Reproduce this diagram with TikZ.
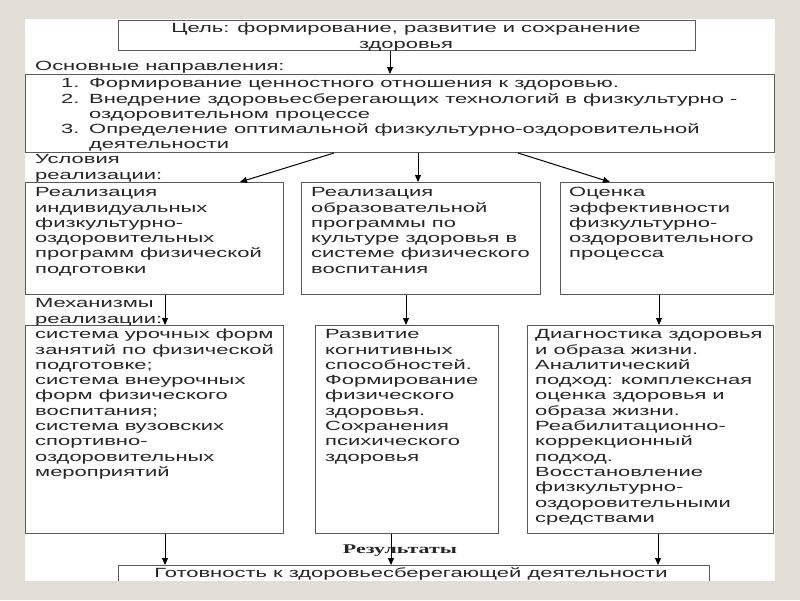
\documentclass[tikz,border=0pt]{standalone}
\usepackage{fontspec}
\setmainfont{Liberation Sans}[FakeStretch=1.65]
\newfontfamily\resfont{Liberation Serif}[FakeStretch=1.65]
\usetikzlibrary{arrows.meta}
\definecolor{bg}{HTML}{E3DED5}
\definecolor{ink}{HTML}{262626}
\definecolor{edge}{HTML}{5A5A5A}
\newcommand\fst{\rule{0pt}{10pt}}
\begin{document}
\begin{tikzpicture}[x=1pt,y=-1pt,
  box/.style={draw=edge, line width=1pt, inner sep=0pt, anchor=north west},
  txt/.style={text=ink, inner sep=0pt, anchor=north west, align=left, font=\fontsize{13.3}{15.3}\selectfont},
  arr/.style={draw=black, line width=1pt, -{Triangle[length=7pt,width=6pt]}}]
\fill[bg] (0,0) rectangle (800,600);
\useasboundingbox (0,0) rectangle (800,600);
\fill[white] (24.5,19) rectangle (774.5,581);
% boxes
\node[box, minimum width=577pt, minimum height=30pt] (goal) at (118,20) {};
\node[box, minimum width=749pt, minimum height=78pt] (dirs) at (24.5,74) {};
\node[box, minimum width=258pt, minimum height=112pt] (c1) at (24.5,182) {};
\node[box, minimum width=239pt, minimum height=112pt] (c2) at (301,182) {};
\node[box, minimum width=213pt, minimum height=112pt] (c3) at (560,182) {};
\node[box, minimum width=258pt, minimum height=208pt] (m1) at (24.5,325) {};
\node[box, minimum width=183pt, minimum height=208pt] (m2) at (315,325) {};
\node[box, minimum width=246pt, minimum height=208pt] (m3) at (527,325) {};
\coordinate (rbl) at (118,581);
\coordinate (rtl) at (118,565);
\coordinate (rtr) at (709,565);
\coordinate (rbr) at (709,581);
\draw[edge, line width=1pt] (rbl) -- (rtl) -- (rtr) -- (rbr);
% texts
\node[txt, anchor=north, align=center] (goalt) at (406,22.5) {\fst Цель: формирование, развитие и сохранение\\здоровья};
\node[txt] (dirl) at (35,60.5) {\fst Основные направления:};
\node[txt] (list) at (61,77.5) {\fst\makebox[28pt][l]{1.}Формирование ценностного отношения к здоровью.\\
\makebox[28pt][l]{2.}Внедрение здоровьесберегающих технологий в физкультурно -\\
\hspace*{28pt}оздоровительном процессе\\
\makebox[28pt][l]{3.}Определение оптимальной физкультурно-оздоровительной\\
\hspace*{28pt}деятельности};
\node[txt] (condl) at (35,153.5) {\fst Условия\\реализации:};
\node[txt] (c1t) at (35,186.5) {\fst Реализация\\индивидуальных\\физкультурно-\\оздоровительных\\программ физической\\подготовки};
\node[txt] (c2t) at (311,186.5) {\fst Реализация\\образовательной\\программы по\\культуре здоровья в\\системе физического\\воспитания};
\node[txt] (c3t) at (569,186.5) {\fst Оценка\\эффективности\\физкультурно-\\оздоровительного\\процесса};
\node[txt] (mechl) at (35,297.5) {\fst Механизмы\\реализации:};
\node[txt] (m1t) at (35,328.5) {\fst система урочных форм\\занятий по физической\\подготовке;\\система внеурочных\\форм физического\\воспитания;\\система вузовских\\спортивно-\\оздоровительных\\мероприятий};
\node[txt] (m2t) at (325,328.5) {\fst Развитие\\когнитивных\\способностей.\\Формирование\\физического\\здоровья.\\Сохранения\\психического\\здоровья};
\node[txt] (m3t) at (535,328.5) {\fst Диагностика здоровья\\и образа жизни.\\Аналитический\\подход: комплексная\\оценка здоровья и\\образа жизни.\\Реабилитационно-\\коррекционный\\подход.\\Восстановление\\физкультурно-\\оздоровительными\\средствами};
\node[txt, anchor=center, font=\fontsize{13.3}{15.3}\selectfont\resfont\bfseries] (resl) at (400,551) {Результаты};
\node[txt, anchor=center] (rest) at (411,574) {Готовность к здоровьесберегающей деятельности};
% arrow x positions
\coordinate (x390) at (390,0);
\coordinate (x334) at (334,0);
\coordinate (x240) at (240,0);
\coordinate (x418) at (418,0);
\coordinate (x518) at (518,0);
\coordinate (x610) at (610,0);
\coordinate (x165) at (165,0);
\coordinate (x406) at (406,0);
\coordinate (x659) at (659,0);
\coordinate (x391) at (391,0);
\coordinate (x658) at (658,0);
% arrows
\draw[arr] (goal.south -| x390) -- (dirs.north -| x390);
\draw[arr] (dirs.south -| x334) -- (c1.north -| x240);
\draw[arr] (dirs.south -| x418) -- (c2.north -| x418);
\draw[arr] (dirs.south -| x518) -- (c3.north -| x610);
\draw[arr] (c1.south -| x165) -- (m1.north -| x165);
\draw[arr] (c2.south -| x406) -- (m2.north -| x406);
\draw[arr] (c3.south -| x659) -- (m3.north -| x659);
\draw[arr] (m1.south -| x165) -- (rtl -| x165);
\draw[arr] (m2.south -| x391) -- (rtl -| x391);
\draw[arr] (m3.south -| x658) -- (rtl -| x658);
\end{tikzpicture}
\end{document}
